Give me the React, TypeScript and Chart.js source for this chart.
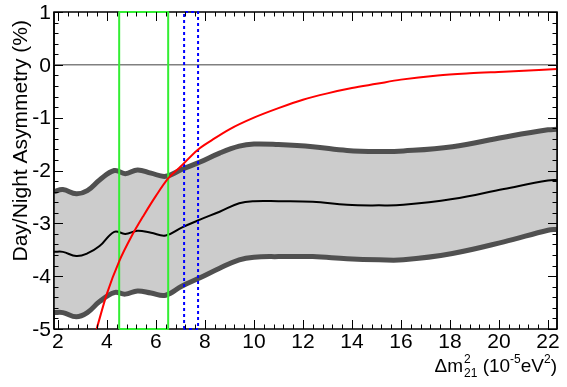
import React, { useEffect, useRef } from "react";
import { Chart, registerables } from "chart.js";

Chart.register(...registerables);

const X_MIN = 1.84;
const X_MAX = 22.37;
const Y_MIN = -5;
const Y_MAX = 1;

const xTicks = [2, 4, 6, 8, 10, 12, 14, 16, 18, 20, 22];
const yTicks = [-5, -4, -3, -2, -1, 0, 1];

const bandX = [1.84, 2.2, 2.75, 3.2, 3.7, 4.3, 4.75, 5.25, 5.8, 6.4, 7.05, 7.8, 8.6, 9.4, 10.0, 11.0, 12.4, 13.8, 15.1, 16.1, 18.1, 20.2, 22.0, 22.37];
const bandUpper = [-2.4, -2.36, -2.44, -2.38, -2.18, -2.0, -2.06, -1.99, -2.05, -2.11, -1.98, -1.84, -1.67, -1.54, -1.5, -1.51, -1.55, -1.62, -1.64, -1.63, -1.55, -1.37, -1.23, -1.22];
const bandCenter = [-3.54, -3.54, -3.62, -3.57, -3.43, -3.16, -3.2, -3.14, -3.18, -3.23, -3.08, -2.93, -2.78, -2.62, -2.58, -2.58, -2.59, -2.65, -2.66, -2.65, -2.54, -2.35, -2.19, -2.18];
const bandLower = [-4.69, -4.69, -4.77, -4.69, -4.48, -4.31, -4.34, -4.28, -4.32, -4.36, -4.19, -4.03, -3.85, -3.69, -3.64, -3.63, -3.63, -3.67, -3.69, -3.69, -3.57, -3.35, -3.13, -3.11];

const redX = [3.58, 4.0, 4.5, 5.0, 5.5, 6.0, 6.5, 7.0, 7.7, 8.3, 9.0, 10.0, 11.0, 12.0, 13.0, 14.0, 15.0, 16.0, 17.5, 18.8, 20.2, 22.37];
const redY = [-5.0, -4.33, -3.72, -3.25, -2.85, -2.48, -2.15, -1.93, -1.61, -1.42, -1.22, -1.0, -0.82, -0.66, -0.54, -0.44, -0.36, -0.28, -0.2, -0.16, -0.13, -0.08];

const greenRange = [4.5, 6.5];
const blueRange = [7.15, 7.72];

const yTitle = "Day/Night Asymmetry (%)";

const FONT = "'Liberation Sans', Arial, Helvetica, sans-serif";

const pts = (xs: number[], ys: number[]) => xs.map((x, i) => ({ x, y: ys[i] }));
const box = (r: number[]) => [
  { x: r[0], y: Y_MIN },
  { x: r[0], y: Y_MAX },
  { x: r[1], y: Y_MAX },
  { x: r[1], y: Y_MIN },
  { x: r[0], y: Y_MIN },
];

const framePlugin = {
  id: "rootFrame",
  beforeDatasetsDraw(chart: any) {
    const { ctx, chartArea: a } = chart;
    ctx.save();
    ctx.strokeStyle = "#000";
    ctx.lineWidth = 1.5;
    ctx.strokeRect(a.left, a.top, a.right - a.left, a.bottom - a.top);
    ctx.restore();
  },
  afterDatasetsDraw(chart: any) {
    const { ctx, chartArea: a, scales } = chart;
    const xs = scales.x;
    const ys = scales.y;
    ctx.save();
    ctx.strokeStyle = "#000";
    ctx.lineWidth = 1.5;
    // left/right frame edges on top of band
    ctx.beginPath();
    ctx.moveTo(a.left, a.top);
    ctx.lineTo(a.left, a.bottom);
    ctx.moveTo(a.right, a.top);
    ctx.lineTo(a.right, a.bottom);
    ctx.stroke();
    ctx.lineWidth = 1;
    // x ticks (major every 2, minor every 0.4)
    for (let k = 0; k <= 60; k++) {
      const v = 1.6 + k * 0.4;
      if (v < X_MIN - 1e-6 || v > X_MAX + 1e-6) continue;
      const px = Math.round(xs.getPixelForValue(v)) + 0.5;
      const major = Math.abs(v / 2 - Math.round(v / 2)) < 1e-6;
      const len = major ? 9 : 4.5;
      ctx.beginPath();
      ctx.moveTo(px, a.bottom);
      ctx.lineTo(px, a.bottom - len);
      ctx.moveTo(px, a.top);
      ctx.lineTo(px, a.top + len);
      ctx.stroke();
    }
    // y ticks (major every 1, minor every 0.2)
    for (let k = 0; k <= 30; k++) {
      const v = Y_MIN + k * 0.2;
      const py = Math.round(ys.getPixelForValue(v)) + 0.5;
      const major = Math.abs(v - Math.round(v)) < 1e-6;
      const len = major ? 9 : 4.5;
      ctx.beginPath();
      ctx.moveTo(a.left, py);
      ctx.lineTo(a.left + len, py);
      ctx.moveTo(a.right, py);
      ctx.lineTo(a.right - len, py);
      ctx.stroke();
    }
    // tick labels
    ctx.fillStyle = "#000";
    ctx.font = `21px ${FONT}`;
    ctx.textAlign = "center";
    ctx.textBaseline = "top";
    xTicks.forEach((v) => {
      ctx.fillText(String(v), xs.getPixelForValue(v), a.bottom + 3);
    });
    ctx.textAlign = "right";
    ctx.textBaseline = "middle";
    yTicks.forEach((v) => {
      ctx.fillText(String(v), a.left - 3, ys.getPixelForValue(v) + 1);
    });
    // y title (right aligned at top, rotated)
    ctx.save();
    ctx.translate(27, 20);
    ctx.rotate(-Math.PI / 2);
    ctx.textAlign = "right";
    ctx.textBaseline = "alphabetic";
    ctx.font = `21px ${FONT}`;
    ctx.fillText(yTitle, 0, 0);
    ctx.restore();
    // x title: Δm^2_21 (10^-5 eV^2), right aligned
    const main = `19px ${FONT}`;
    const scr = `12px ${FONT}`;
    const base = 372;
    const parts: { t: string; f: string; dy: number; stackNext?: boolean }[] = [
      { t: "\u0394m", f: main, dy: 0 },
      { t: "2", f: scr, dy: -9, stackNext: true },
      { t: "21", f: scr, dy: 5 },
      { t: " (10", f: main, dy: 0 },
      { t: "-5", f: scr, dy: -9 },
      { t: "eV", f: main, dy: 0 },
      { t: "2", f: scr, dy: -9 },
      { t: ")", f: main, dy: 0 },
    ];
    const widths = parts.map((p) => {
      ctx.font = p.f;
      return ctx.measureText(p.t).width;
    });
    let total = 0;
    for (let i = 0; i < parts.length; i++) {
      if (parts[i].stackNext) {
        total += Math.max(widths[i], widths[i + 1]) + 1;
        i++;
      } else total += widths[i];
    }
    let x = a.right - total;
    ctx.textAlign = "left";
    ctx.textBaseline = "alphabetic";
    for (let i = 0; i < parts.length; i++) {
      const p = parts[i];
      ctx.font = p.f;
      if (p.stackNext) {
        const q = parts[i + 1];
        ctx.fillText(p.t, x + 1, base + p.dy);
        ctx.font = q.f;
        ctx.fillText(q.t, x + 1, base + q.dy);
        x += Math.max(widths[i], widths[i + 1]) + 1;
        i++;
      } else {
        ctx.fillText(p.t, x, base + p.dy);
        x += widths[i];
      }
    }
    ctx.restore();
  },
};

export default function App() {
  const ref = useRef<HTMLCanvasElement | null>(null);
  useEffect(() => {
    document.body.style.margin = "0";
    const canvas = ref.current;
    if (!canvas) return;
    const chart = new Chart(canvas, {
      type: "line",
      data: {
        datasets: [
          {
            label: "lower",
            data: pts(bandX, bandLower),
            borderColor: "#505050",
            borderWidth: 5,
            pointRadius: 0,
            tension: 0.4,
            fill: false,
            order: 3,
          },
          {
            label: "upper",
            data: pts(bandX, bandUpper),
            borderColor: "#505050",
            borderWidth: 5,
            pointRadius: 0,
            tension: 0.4,
            backgroundColor: "#cccccc",
            fill: 0,
            order: 3,
          },
          {
            label: "center",
            data: pts(bandX, bandCenter),
            borderColor: "#000000",
            borderWidth: 2,
            pointRadius: 0,
            tension: 0.4,
            fill: false,
            order: 2,
          },
          {
            label: "zero",
            data: [
              { x: X_MIN, y: 0 },
              { x: X_MAX, y: 0 },
            ],
            borderColor: "#808080",
            borderWidth: 1.5,
            pointRadius: 0,
            fill: false,
            order: 4,
          },
          {
            label: "red",
            data: pts(redX, redY),
            borderColor: "#ff0000",
            borderWidth: 2,
            pointRadius: 0,
            cubicInterpolationMode: "monotone",
            fill: false,
            order: 0,
          },
          {
            label: "green",
            data: box(greenRange),
            borderColor: "#33ee33",
            borderWidth: 2,
            pointRadius: 0,
            tension: 0,
            fill: false,
            clip: false,
            order: 1,
          },
          {
            label: "blue",
            data: box(blueRange),
            borderColor: "#0000ff",
            borderWidth: 2,
            borderDash: [3, 3],
            pointRadius: 0,
            tension: 0,
            fill: false,
            clip: false,
            order: 1,
          },
        ],
      } as any,
      options: {
        animation: false,
        responsive: false,
        devicePixelRatio: 1,
        layout: { padding: { left: 54, top: 12, right: 10, bottom: 58 } },
        plugins: { legend: { display: false }, tooltip: { enabled: false }, title: { display: false } },
        elements: { line: { borderCapStyle: "butt", borderJoinStyle: "round" } },
        scales: {
          x: { type: "linear", min: X_MIN, max: X_MAX, display: false },
          y: { type: "linear", min: Y_MIN, max: Y_MAX, display: false },
        },
      } as any,
      plugins: [framePlugin],
    });
    return () => chart.destroy();
  }, []);
  return (
    <div style={{ width: 567, height: 387, position: "absolute", left: 0, top: 0, background: "#fff" }}>
      <canvas ref={ref} width={567} height={387} style={{ width: 567, height: 387 }} />
    </div>
  );
}
